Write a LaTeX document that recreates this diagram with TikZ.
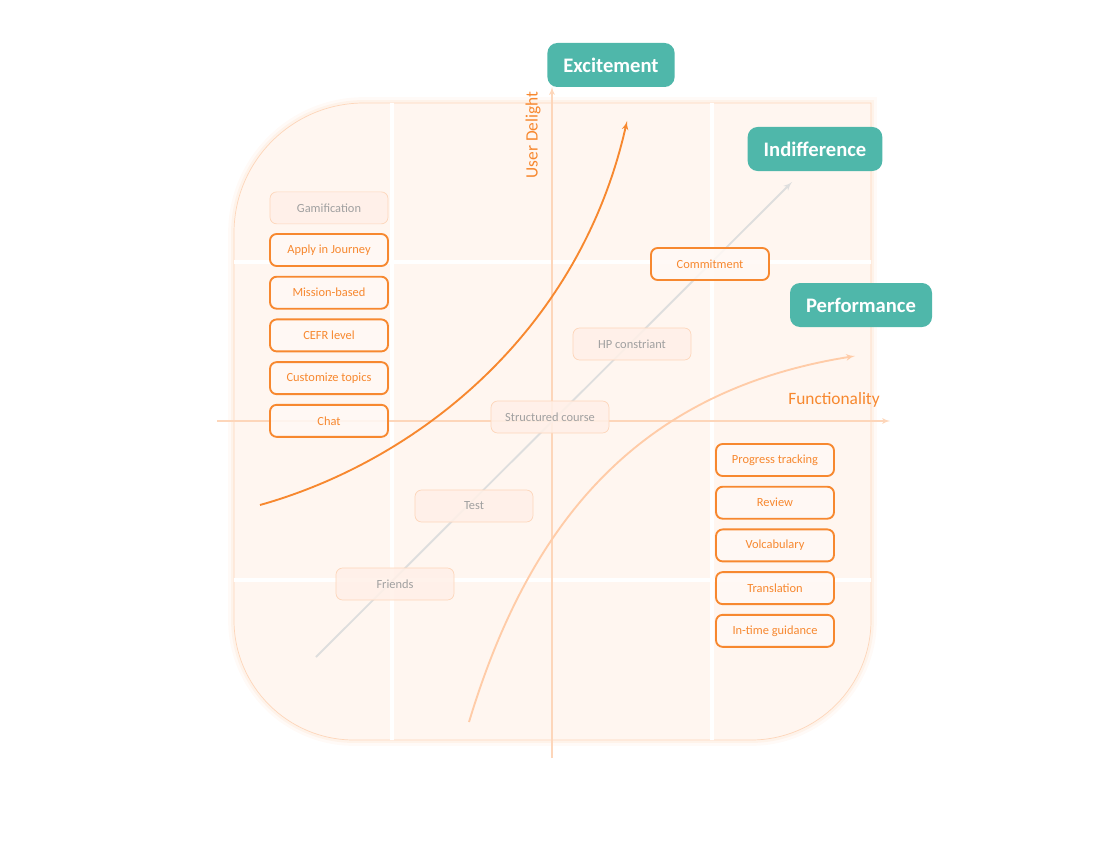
\documentclass[tikz,border=0pt]{standalone}
\usepackage{fontspec}
\setmainfont{Carlito}
\usetikzlibrary{shapes,arrows,positioning}
\definecolor{kanoorange}{RGB}{247,136,47}
\definecolor{paleorange}{RGB}{253,214,186}
\definecolor{panelfill}{RGB}{255,246,240}
\definecolor{boxfill}{RGB}{255,249,245}
\definecolor{fadefill}{RGB}{255,240,232}
\definecolor{fadetext}{RGB}{160,160,160}
\definecolor{kanoteal}{RGB}{79,183,170}
\definecolor{diaggray}{RGB}{222,222,222}
\definecolor{curvepale}{RGB}{255,204,168}
\tikzstyle{line} = [draw, -latex']

\begin{document}
\begin{tikzpicture}[x=0.03cm, y=-0.03cm,
    feature/.style={rectangle, draw=kanoorange, line width=1.6pt, fill=boxfill, fill opacity=0.85, text opacity=1, rounded corners=0.2cm, text=kanoorange, font=\fontsize{10.6}{12}\selectfont, minimum width=3.54cm, minimum height=0.96cm, text centered},
    faded/.style={feature, draw=paleorange, line width=0.6pt, fill=fadefill, text=fadetext},
    category/.style={rectangle, fill=kanoteal, rounded corners=0.3cm, text=white, font=\fontsize{17.6}{20}\selectfont\bfseries, minimum height=1.32cm, inner xsep=0.48cm},
    axis/.style={line, draw=paleorange, line width=1.3pt},
    axislabel/.style={text=kanoorange, font=\fontsize{14.8}{17}\selectfont}]
        \useasboundingbox (0,0) rectangle (1105,849);
        \def\panelpath{(871,103) -- (871,620) arc[start angle=0, end angle=-90, radius=3.6cm] -- (354,740) arc[start angle=270, end angle=180, radius=3.6cm] -- (234,233) arc[start angle=180, end angle=90, radius=3.9cm] -- cycle}
        % background panel with soft glow
        \path[preaction={draw=paleorange, line width=10pt, opacity=0.12}, preaction={draw=paleorange, line width=5pt, opacity=0.2}, fill=panelfill, draw=paleorange, line width=0.6pt] \panelpath;
        \begin{scope}
            \clip \panelpath;
            \draw[white, line width=3pt] (392,90) -- (392,750);
            \draw[white, line width=3pt] (712,90) -- (712,750);
            \draw[white, line width=3pt] (220,262) -- (880,262);
            \draw[white, line width=3pt] (220,580) -- (880,580);
        \end{scope}

        % axes
        \coordinate (yfoot) at (552,758);
        \coordinate (yhead) at (552,87);
        \coordinate (xfoot) at (217,421);
        \coordinate (xhead) at (890,421);
        \path [axis] (yfoot) -- (yhead);
        \path [axis] (xfoot) -- (xhead);
        \node[axislabel, rotate=90] (delight) at (533,135) {User Delight};
        \node[axislabel] (functionality) at (834,400) {Functionality};

        % curves
        \coordinate (indstart) at (316,657);
        \coordinate (indend) at (792,182);
        \coordinate (excstart) at (260,505);
        \coordinate (excend) at (627,121);
        \coordinate (perfstart) at (469,722);
        \coordinate (perfend) at (855,356);
        \path [line, draw=diaggray, line width=1.6pt] (indstart) -- (indend);
        \path [line, draw=curvepale, line width=1.6pt] (perfstart) .. controls (530,520) and (640,390) .. (perfend);
        \path [line, draw=kanoorange, line width=1.6pt] (excstart) .. controls (420,460) and (580,330) .. (excend);

        % left column
        \node[feature] (apply) at (329,250) {Apply in Journey};
        \node[faded, above=0.265cm of apply] (gamification) {Gamification};
        \node[feature, below=0.265cm of apply] (mission) {Mission-based};
        \node[feature, below=0.265cm of mission] (cefr) {CEFR level};
        \node[feature, below=0.265cm of cefr] (topics) {Customize topics};
        \node[feature, below=0.265cm of topics] (chat) {Chat};

        % right column
        \node[feature] (progress) at (775,460) {Progress tracking};
        \node[feature, below=0.265cm of progress] (review) {Review};
        \node[feature, below=0.265cm of review] (vocab) {Volcabulary};
        \node[feature, below=0.265cm of vocab] (translation) {Translation};
        \node[feature, below=0.265cm of translation] (guidance) {In-time guidance};

        % along the diagonal
        \node[feature] (commitment) at (710,264) {Commitment};
        \node[faded] (hp) at (632,344) {HP constriant};
        \node[faded] (structured) at (550,417) {Structured course};
        \node[faded] (test) at (474,506) {Test};
        \node[faded] (friends) at (395,584) {Friends};

        % categories
        \node[category] (excitement) at (611,65) {Excitement};
        \node[category] (indifference) at (815,149) {Indifference};
        \node[category] (performance) at (861,305) {Performance};
    \end{tikzpicture}
\end{document}
